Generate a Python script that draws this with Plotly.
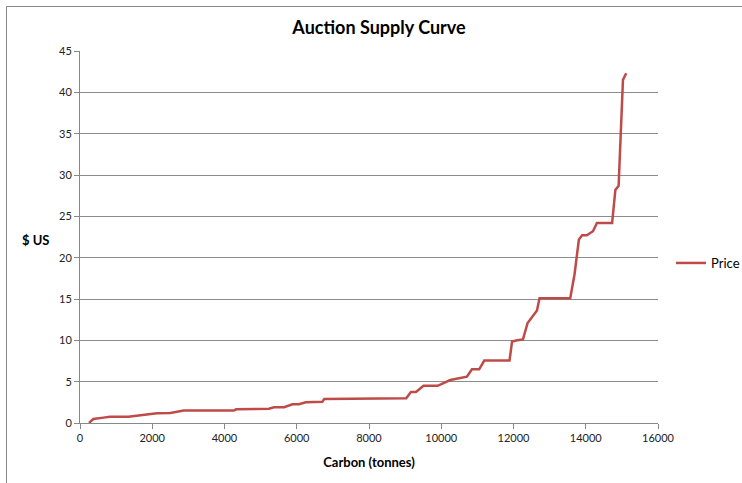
import plotly.graph_objects as go

carbon = [250, 370, 650, 830, 1340, 1940, 2130, 2500, 2870, 4260, 4320, 5230, 5370, 5650,
          5880, 6060, 6250, 6710, 6760, 9030, 9160, 9300, 9510, 9900, 10250, 10710, 10850,
          11050, 11190, 11890, 11960, 12100, 12260, 12390, 12650, 12720, 13570, 13690,
          13810, 13900, 14030, 14200, 14310, 14730, 14820, 14910, 15030, 15120]
price = [0, 0.48, 0.65, 0.75, 0.75, 1.09, 1.17, 1.2, 1.5, 1.5, 1.65, 1.73, 1.9, 1.9,
         2.26, 2.26, 2.5, 2.58, 2.9, 3.0, 3.75, 3.75, 4.5, 4.5, 5.2, 5.6, 6.5,
         6.5, 7.55, 7.55, 9.85, 10.0, 10.1, 12.1, 13.6, 15.1, 15.1, 18.0,
         22.2, 22.7, 22.7, 23.2, 24.2, 24.2, 28.2, 28.7, 41.5, 42.3]

W, H = 742, 483
L, R, T, B = 80, 658, 51, 423
pw, ph = R - L, B - T

def px(x):
    return (x - L) / pw

def py(y):
    return (B - y) / ph

fig = go.Figure()
fig.add_trace(go.Scatter(x=carbon, y=price, mode="lines", name="Price",
                         line=dict(color="#BE4B48", width=2.5)))

axis_font = dict(family="Lato, Open Sans, sans-serif", size=11, color="#222222")
fig.update_layout(
    width=W, height=H,
    margin=dict(l=L, r=W - R, t=T, b=H - B, autoexpand=False),
    paper_bgcolor="white", plot_bgcolor="white",
    title=dict(text="<b>Auction Supply Curve</b>", x=(379) / W, xanchor="center",
               y=1 - 28 / H, yanchor="middle",
               font=dict(family="Lato, Open Sans, sans-serif", size=18, color="#000000")),
    xaxis=dict(range=[0, 16000], dtick=2000, tick0=0, tickformat="d",
               showgrid=False, zeroline=False,
               showline=True, linecolor="#888888", linewidth=1,
               ticks="outside", ticklen=5, tickcolor="#888888",
               tickfont=axis_font,
               title=dict(text="<b>Carbon (tonnes)</b>", standoff=14,
                          font=dict(family="Lato, Open Sans, sans-serif", size=13, color="#000000"))),
    yaxis=dict(range=[0, 45], dtick=5, tick0=0, showgrid=True, gridcolor="#8c8c8c",
               gridwidth=1, zeroline=False,
               showline=True, linecolor="#888888", linewidth=1,
               ticks="outside", ticklen=5, tickcolor="#888888",
               tickfont=axis_font),
    showlegend=True,
    legend=dict(x=px(671), y=py(263), xanchor="left", yanchor="middle",
                font=dict(family="Lato, Open Sans, sans-serif", size=13, color="#000000"),
                bgcolor="rgba(0,0,0,0)"),
)

fig.add_annotation(text="<b>$ US</b>", xref="paper", yref="paper",
                   x=px(35), y=py(240), xanchor="center", yanchor="middle",
                   showarrow=False,
                   font=dict(family="Lato, Open Sans, sans-serif", size=13, color="#000000"))

# outer chart border (left and top visible)
fig.add_shape(type="line", xref="paper", yref="paper",
              x0=px(6.5), x1=px(6.5), y0=py(6.5), y1=py(490),
              line=dict(color="#888888", width=1))
fig.add_shape(type="line", xref="paper", yref="paper",
              x0=px(6.5), x1=px(750), y0=py(6.5), y1=py(6.5),
              line=dict(color="#888888", width=1))

fig.write_html("out.html")
